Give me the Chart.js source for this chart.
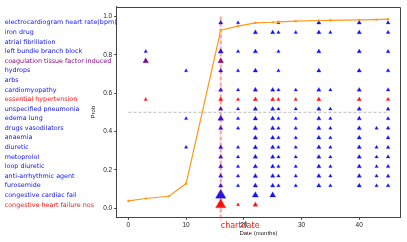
<!DOCTYPE html>
<html>
<head>
<meta charset="utf-8">
<script src="https://cdn.jsdelivr.net/npm/chart.js@4"></script>
<style>
  html, body { margin: 0; padding: 0; background: #fff; }
  canvas { display: block; }
</style>
</head>
<body>
<canvas id="chart" width="407" height="242"></canvas>
<script>
// Risk curve (orange)
const months = [0, 3, 7, 10, 16, 19, 22, 25, 26, 29, 33, 35, 40, 43, 45];
const prob = [0.038, 0.05, 0.062, 0.128, 0.928, 0.95, 0.967, 0.97, 0.972, 0.976, 0.979, 0.98, 0.982, 0.984, 0.986];

// Chart date marker and threshold
const chartDate = 16;
const threshold = 0.5;

// Features (top to bottom) and the months where each one appears
const features = [
  'electrocardiogram heart rate(bpm)', 'iron drug', 'atrial fibrillation',
  'left bundle branch block', 'coagulation tissue factor induced', 'hydrops',
  'arbs', 'cardiomyopathy', 'essential hypertension', 'unspecified pneumonia',
  'edema lung', 'drugs vasodilators', 'anaemia', 'diuretic', 'metoprolol',
  'loop diuretic', 'anti-arrhythmic agent', 'furosemide',
  'congestive cardiac fail', 'congestive heart failure nos'
];
const featureMonths = [
  [16, 19, 26, 33, 40, 45],
  [22, 25, 26, 29, 33, 35, 40, 45],
  [],
  [3, 16, 19, 22, 26, 33, 40, 45],
  [3, 16],
  [10, 16, 19, 22, 26, 33, 40, 45],
  [],
  [16, 19, 22, 25, 26, 29, 33, 35, 40, 45],
  [3, 16, 19, 22, 25, 26, 29, 33, 40, 45],
  [16, 19, 22, 25, 26, 29, 33, 35, 40, 45],
  [10, 16, 19, 22, 25, 26, 29, 33, 35, 40, 45],
  [16, 19, 22, 25, 26, 29, 33, 35, 40, 43, 45],
  [22, 25, 26, 29, 33, 35, 40, 45],
  [10, 16, 19, 22, 25, 26, 29, 33, 35, 40, 43, 45],
  [16, 19, 22, 25, 26, 29, 33, 35, 40, 43, 45],
  [16, 19, 22, 25, 26, 29, 33, 35, 40, 43, 45],
  [16, 19, 22, 25, 26, 29, 33, 35, 40, 43, 45],
  [16, 19, 22, 25, 26, 29, 33, 35, 40, 43, 45],
  [16, 22, 25],
  [16, 19, 22]
];

const xTicks = [0, 10, 20, 30, 40];
const yTicks = [0, 0.2, 0.4, 0.6, 0.8, 1.0];

// styles
const BLUE = 'rgb(20,20,245)';
const RED = 'rgb(250,20,20)';
const PURPLE = 'rgb(128,10,128)';
const featureColor = i => i === 4 ? PURPLE : (i === 8 || i === 19) ? RED : BLUE;
const rowY = i => 0.967 - 0.05 * i;   // row placement on the prob axis
const colRadius = { 3: 2, 10: 2, 16: 2.5, 19: 2, 22: 2.6, 25: 2.5, 26: 2, 29: 2, 33: 2.5, 35: 2, 40: 2.5, 43: 2, 45: 2.2 };
const bigMarks = { '18-16': 6, '19-16': 6, '10-16': 3.4, '3-16': 3, '4-16': 3.3, '4-3': 3.3, '18-22': 3.6, '18-25': 3.4, '19-22': 2.8 };

const featureSets = features.map((f, i) => ({
  type: 'scatter',
  label: f,
  order: 2,
  data: featureMonths[i].map(m => ({ x: m, y: rowY(i) })),
  pointStyle: 'triangle',
  pointRadius: featureMonths[i].map(m => bigMarks[i + '-' + m] || colRadius[m]),
  backgroundColor: featureColor(i),
  borderColor: featureColor(i).replace('rgb', 'rgba').replace(')', ',0.35)'),
  borderWidth: 0.8,
  showLine: false
}));

const overlay = {
  id: 'overlay',
  afterDraw(chart) {
    const { ctx, chartArea: a, scales: { x, y } } = chart;
    ctx.save();
    // top and right spines
    ctx.strokeStyle = '#444';
    ctx.lineWidth = 1;
    ctx.beginPath();
    ctx.moveTo(Math.round(a.left) - 0.5, Math.round(a.top) + 0.5);
    ctx.lineTo(Math.round(a.right) + 0.5, Math.round(a.top) + 0.5);
    ctx.lineTo(Math.round(a.right) + 0.5, Math.round(a.bottom));
    ctx.stroke();
    // feature names
    ctx.font = '6.4px "DejaVu Sans"';
    ctx.textAlign = 'left';
    ctx.textBaseline = 'middle';
    features.forEach((f, i) => {
      ctx.fillStyle = featureColor(i);
      ctx.fillText(f, 4.7, y.getPixelForValue(rowY(i)));
    });
    // chart date label
    ctx.font = '8px "DejaVu Sans"';
    ctx.fillStyle = RED;
    ctx.fillText('chartdate', x.getPixelForValue(chartDate), 225.5);
    ctx.restore();
  }
};

new Chart(document.getElementById('chart'), {
  type: 'line',
  data: {
    datasets: [
      {
        label: 'prob',
        order: 0,
        data: months.map((m, i) => ({ x: m, y: prob[i] })),
        borderColor: 'rgb(255,152,24)',
        backgroundColor: 'rgb(255,152,24)',
        borderWidth: 1.2,
        pointStyle: 'rect',
        pointRadius: 1.5,
        pointBorderWidth: 0,
        tension: 0
      },
      {
        label: 'chartdate',
        order: 1,
        data: [{ x: chartDate, y: 1.0 }, { x: chartDate, y: -0.066 }],
        borderColor: 'rgba(255,0,0,0.35)',
        borderWidth: 2.2,
        borderDash: [4, 2],
        pointRadius: 0,
        clip: false
      },
      ...featureSets,
      {
        label: 'threshold',
        order: 3,
        data: [{ x: 0, y: threshold }, { x: 45, y: threshold }],
        borderColor: '#aaa',
        borderWidth: 0.8,
        borderDash: [3, 2],
        pointRadius: 0
      }
    ]
  },
  options: {
    responsive: false,
    devicePixelRatio: 1,
    animation: false,
    layout: { padding: { left: 0, top: 4.5, right: 5.3, bottom: 0 } },
    plugins: { legend: { display: false }, tooltip: { enabled: false } },
    scales: {
      x: {
        type: 'linear',
        min: -2.03,
        max: 47.1,
        afterBuildTicks: s => { s.ticks = xTicks.map(v => ({ value: v })); },
        afterFit: s => { s.height = 24.7; },
        grid: { drawOnChartArea: false, tickLength: 2.5, color: '#444' },
        border: { color: '#444' },
        ticks: { font: { size: 6.5 }, color: '#222', padding: 1.5, maxRotation: 0 },
        title: { display: true, text: 'Date (months)', font: { size: 6 }, color: '#222', padding: { top: 0, bottom: 5.1 } }
      },
      y: {
        type: 'linear',
        min: -0.048,
        max: 1.0506,
        afterBuildTicks: s => { s.ticks = yTicks.map(v => ({ value: v })); },
        afterFit: s => { s.width = 116.7; },
        grid: { drawOnChartArea: false, tickLength: 2.5, color: '#444' },
        border: { color: '#444' },
        ticks: { font: { size: 6.5 }, color: '#222', padding: 2, callback: v => v.toFixed(1) },
        title: { display: true, text: 'Prob', font: { size: 6 }, color: '#222', padding: { top: 89.4, bottom: 0 } }
      }
    }
  },
  plugins: [overlay]
});
</script>
</body>
</html>
